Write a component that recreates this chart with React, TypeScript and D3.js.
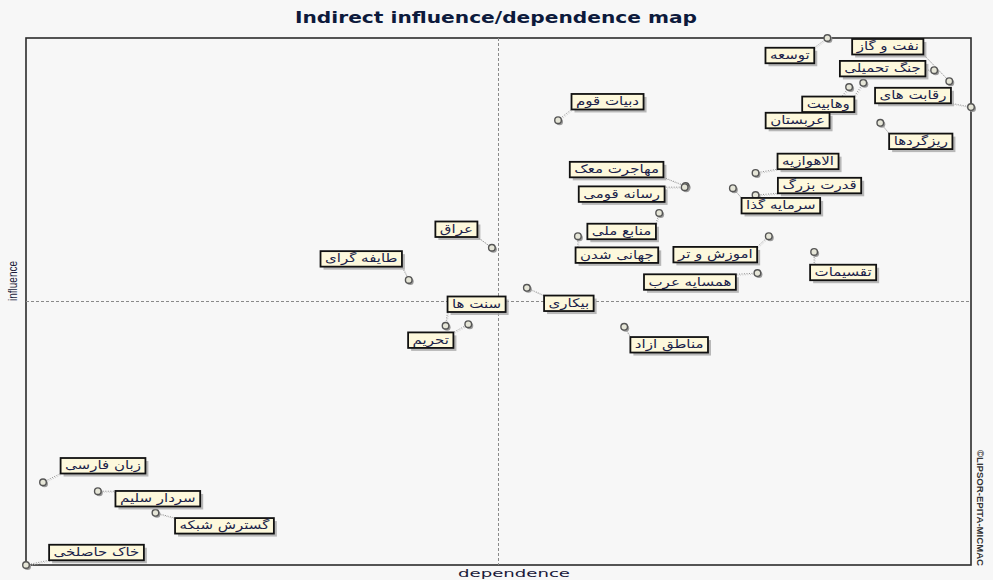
import React, { useMemo } from "react";
import * as d3 from "d3";

const variables = [
  "توسعه", "نفت و گاز", "جنگ تحمیلی", "رقابت های", "وهابیت", "عربستان", "ریزگردها",
  "دبیات قوم", "مهاجرت معک", "رسانه قومی", "الاهوازیه", "قدرت بزرگ", "سرمایه گذا",
  "منابع ملی", "جهانی شدن", "اموزش و تر", "تقسیمات", "همسایه عرب", "بیکاری",
  "مناطق ازاد", "عراق", "طایفه گرای", "سنت ها", "تحریم", "زبان فارسی",
  "سردار سلیم", "گسترش شبکه", "خاک حاصلخی",
];

// indirect dependence (x) and influence (y), relative units
const dependence = [
  84.8, 97.7, 96.1, 100, 88.6, 87.1, 90.4,
  56.3, 69.8, 69.7, 77.2, 77.2, 74.8,
  67.0, 58.4, 78.6, 83.4, 77.4, 53.0,
  63.3, 49.3, 40.5, 44.4, 46.8, 1.8,
  7.6, 13.7, 0,
];
const influence = [
  100, 91.8, 93.9, 86.9, 91.5, 90.7, 83.9,
  84.4, 71.9, 71.7, 74.4, 70.2, 71.5,
  66.8, 62.4, 62.4, 59.4, 55.4, 52.6,
  45.2, 60.2, 54.1, 45.4, 45.7, 15.7,
  14.0, 9.9, 0,
];

// label placement: offset of the label centre from its point
const labelOffsets: [number, number][] = [
  [-37.5, 17.5], [-61.5, -34.5], [-51.5, -1.5], [-58, -11.5], [-35, 21.5], [-51.5, 33.5], [40.5, 18.5],
  [49.5, -18.5], [-69, -16.5], [-63, 7], [52.5, -11.5], [64, -9.5], [48, 17.5],
  [-37.5, 18.5], [39, 19], [-53.5, 18.5], [29, 20.5], [-67.5, 9], [42, 15.5],
  [45, 18], [-35.5, -18.5], [-47.5, -21], [31, -21.5], [-37.5, 16], [60, -16.5],
  [60, 7.5], [69, 13], [70.5, -12.5],
];

const W = 993;
const H = 580;
const LEFT = 26, RIGHT = 971, TOP = 38, BOTTOM = 565;
const LABEL_FONT = "12px 'DejaVu Sans'";
const STRETCH = 1.25;

function measure(text: string): number {
  const c = document.createElement("canvas").getContext("2d");
  if (!c) return text.length * 7;
  c.font = LABEL_FONT;
  return c.measureText(text).width;
}

export default function App() {
  const x = d3.scaleLinear().domain(d3.extent(dependence) as [number, number]).range([LEFT, RIGHT]);
  const y = d3.scaleLinear().domain(d3.extent(influence) as [number, number]).range([BOTTOM, TOP]);
  const [x0, x1] = x.domain();
  const [y0, y1] = y.domain();
  const midX = x((x0 + x1) / 2);
  const midY = y((y0 + y1) / 2);

  const items = useMemo(() => variables.map((name, i) => {
    const px = x(dependence[i]);
    const py = y(influence[i]);
    const tw = measure(name) * STRETCH;
    const bw = tw + 9;
    const bh = 15.5;
    const cx = px + labelOffsets[i][0];
    const cy = py + labelOffsets[i][1];
    const bx = cx - bw / 2;
    const by = cy - bh / 2;
    const qx = Math.max(bx, Math.min(px, bx + bw));
    const qy = Math.max(by, Math.min(py, by + bh));
    return { name, px, py, bx, by, bw, bh, cx, cy, qx, qy, tw };
  }), []);

  return (
    <div style={{ position: "fixed", left: 0, top: 0, width: W, height: H }}>
      <svg width={W} height={H} style={{ display: "block", background: "#f7f7f7" }}>
        <text x={496} y={23} textAnchor="middle" fontFamily="'DejaVu Sans', sans-serif" fontWeight="bold"
          fontSize={15} fill="#0d1a3c" textLength={402} lengthAdjust="spacingAndGlyphs">
          Indirect influence/dependence map
        </text>
        <rect x={LEFT} y={TOP} width={RIGHT - LEFT} height={BOTTOM - TOP} fill="#f7f7f7" stroke="#2b2b2b" strokeWidth={1.6} />
        <line x1={midX} x2={midX} y1={TOP} y2={BOTTOM} stroke="#8a8a8a" strokeDasharray="3,2" strokeWidth={1} />
        <line x1={LEFT} x2={RIGHT} y1={midY} y2={midY} stroke="#8a8a8a" strokeDasharray="3,2" strokeWidth={1} />
        <text x={514} y={577} textAnchor="middle" fontFamily="'DejaVu Sans', sans-serif" fontSize={11}
          fill="#1a1a3a" textLength={112} lengthAdjust="spacingAndGlyphs">dependence</text>
        <text transform={`translate(17,281) rotate(-90)`} textAnchor="middle" fontFamily="'Liberation Sans', sans-serif"
          fontSize={12} fill="#1a1a3a" textLength={40} lengthAdjust="spacingAndGlyphs">influence</text>
        <text transform={`translate(977,508) rotate(90)`} textAnchor="middle" fontFamily="'Liberation Sans', sans-serif"
          fontWeight="bold" fontSize={9} fill="#333" textLength={116} lengthAdjust="spacingAndGlyphs">©LIPSOR-EPITA-MICMAC</text>

        {items.map((d, i) => (
          <g key={"l" + i}>
            <line x1={d.px + 1} y1={d.py + 1} x2={d.qx + 1} y2={d.qy + 1} stroke="#c8c8c8" strokeWidth={1} strokeDasharray="1,1.5" />
            <line x1={d.px} y1={d.py} x2={d.qx} y2={d.qy} stroke="#8c8c8c" strokeWidth={1} strokeDasharray="1,1.5" />
          </g>
        ))}
        {items.map((d, i) => (
          <g key={"p" + i}>
            <circle cx={d.px + 1.5} cy={d.py + 1.5} r={3.5} fill="#9a9a9a" />
            <circle cx={d.px} cy={d.py} r={3.3} fill="#e6e6d8" stroke="#555" strokeWidth={1.4} />
          </g>
        ))}
        {items.map((d, i) => (
          <g key={"b" + i}>
            <rect x={d.bx + 3} y={d.by + 3} width={d.bw} height={d.bh} fill="#a8a8a8" opacity={0.8} />
            <rect x={d.bx} y={d.by} width={d.bw} height={d.bh} fill="#fdf8dc" stroke="#111" strokeWidth={1.8} />
            <text x={d.cx} y={d.cy + 3.5} textAnchor="middle" direction="rtl" fontFamily="'DejaVu Sans', sans-serif"
              fontSize={12} fill="#1b1f4a" textLength={d.tw} lengthAdjust="spacingAndGlyphs">{d.name}</text>
          </g>
        ))}
      </svg>
    </div>
  );
}
